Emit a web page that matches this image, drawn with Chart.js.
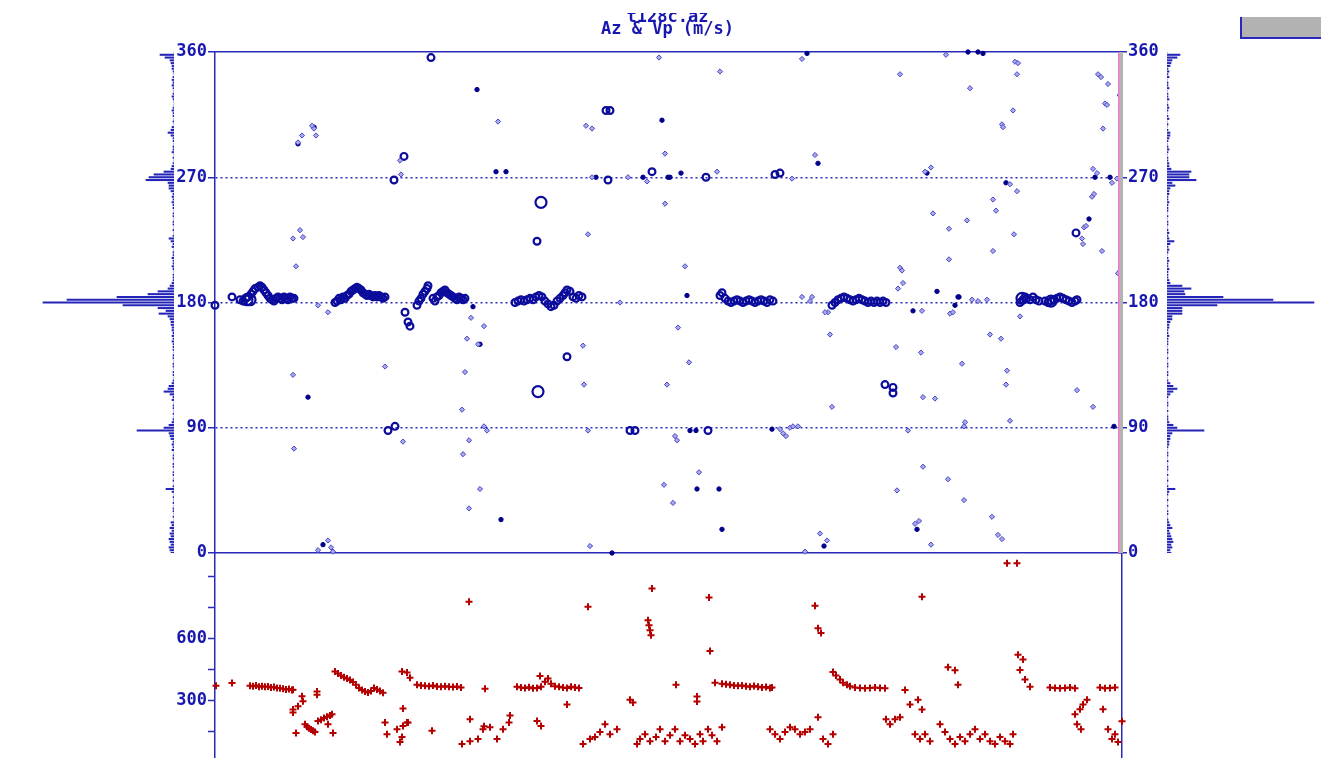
<!DOCTYPE html>
<html>
<head>
<meta charset="utf-8">
<script src="https://cdn.jsdelivr.net/npm/chart.js@4.4.0/dist/chart.umd.min.js"></script>
<style>
html, body { margin: 0; padding: 0; width: 1321px; height: 758px; overflow: hidden; background: #fff; }
canvas { position: absolute; }
#azChart { left: 0; top: 0; }
#vpChart { left: 0; top: 543px; }
#histLeft { left: 0; top: 47px; }
#histRight { left: 1167px; top: 47px; }
#titleClip { position: absolute; left: 560px; top: 0; width: 220px; height: 13px; background: #fff; }
#grayBox { position: absolute; left: 1240px; top: 17px; width: 81px; height: 20px; background: #b2b2b2; border-left: 2px solid #2828c0; border-bottom: 2px solid #2828c0; }
</style>
</head>
<body>
<canvas id="azChart" width="1321" height="758"></canvas>
<canvas id="vpChart" width="1321" height="235"></canvas>
<canvas id="histLeft" width="174" height="511"></canvas>
<canvas id="histRight" width="154" height="511"></canvas>
<div id="titleClip"></div>
<div id="grayBox"></div>
<script>
// Colours
const AXIS = '#2a2ab8';
const TEXT = '#1717b0';
const NAVY = '#0c0c9c';

// Azimuth panel: [trace position, azimuth deg]
const ringPoints = [
    // group near 180, first
    [25,182],[28,181],[31,183],[33,184],[36,186],[38,188],[40,190],[43,191],[45,192],[47,191],[49,189],[51,187],[53,185],
    [55,183],[57,182],[59,181],[61,183],[63,184],[65,183],[67,182],[69,184],[71,183],[73,182],[75,184],[77,183],[79,183],
    // second
    [120,180],[122,181],[124,183],[126,182],[128,184],[130,183],[132,185],[134,186],[136,188],[138,189],[140,190],[142,191],
    [144,190],[146,189],[148,187],[150,186],[152,185],[154,186],[156,185],[158,184],[160,185],[162,184],[164,185],[166,184],
    [168,183],[170,184],
    [202,178],[204,181],[206,183],[208,186],[210,188],[212,190],[213,192],
    [218,183],[220,181],[222,184],[224,185],[226,187],[228,188],[230,189],[232,187],[234,186],[236,185],[238,184],[240,183],
    [242,182],[244,184],[246,183],[248,182],[250,183],
    [300,180],[303,181],[306,182],[309,181],[312,182],[315,183],[318,182],[321,184],[324,185],[327,184],[330,181],[333,179],
    [336,177],[339,178],[342,181],[345,183],[348,185],[350,187],[352,189],[355,188],[358,184],[361,183],[364,185],[367,184],
    [505,185],[507,187],[510,183],[513,181],[516,180],[519,181],[522,182],[525,181],[528,180],[531,181],[534,182],[537,181],
    [540,180],[543,181],[546,182],[549,181],[552,180],[555,182],[558,181],
    [617,178],[620,180],[623,182],[626,183],[629,184],[632,183],[635,182],[638,181],[641,182],[644,183],[647,182],[650,181],
    [653,180],[656,181],[659,180],[662,181],[665,180],[668,181],[671,180],
    [805,180],[808,182],[810,184],[812,183],[815,182],[818,184],[821,182],[824,181],
    [830,181],[833,180],[836,181],[839,182],[842,183],[845,184],[848,183],[851,182],[854,181],[857,180],[860,181],[862,182],
    // scattered
    [17,184],[0,178],[179,268],[189,285],[216,356],[391,318],[395,318],[322,224],[393,268],[437,274],[491,270],[560,272],
    [565,273],[190,173],[193,166],[195,163],[173,88],[180,91],[352,141],[415,88],[420,88],[493,88],[670,121],[678,119],
    [678,115],[861,230]
];
const bigRingPoints = [[326,252],[323,116],[32,182],[35,182],[807,183],[836,181]];
const diamondPoints = [
    [283,310],[371,307],[377,305],[444,356],[450,287],[450,251],[87,300],[99,305],[101,300],[185,282],[186,272],[377,270],
    [413,270],[432,267],[78,226],[85,232],[88,227],[81,206],[373,229],[587,355],[505,346],[685,344],[731,358],[800,353],
    [803,352],[802,344],[755,334],[883,344],[886,342],[893,337],[890,323],[892,322],[798,318],[787,308],[788,306],[888,305],
    [600,286],[502,274],[577,269],[710,274],[716,277],[795,265],[802,260],[878,276],[882,273],[897,266],[902,269],[877,256],
    [879,258],[869,234],[871,235],[867,226],[868,222],[887,217],[903,201],[778,254],[781,246],[718,244],[752,239],[734,233],
    [799,229],[734,211],[778,217],[470,206],[685,205],[687,203],[688,194],[683,190],[103,178],[113,173],[256,169],[269,163],
    [252,154],[263,150],[368,149],[170,134],[78,128],[250,130],[369,121],[452,121],[247,103],[188,80],[269,91],[272,88],
    [254,81],[248,71],[373,88],[79,75],[265,46],[254,32],[449,49],[375,5],[103,2],[113,9],[118,1],[116,4],[463,162],
    [474,137],[615,157],[617,105],[681,148],[706,144],[747,136],[792,131],[791,121],[708,112],[720,111],[862,117],[878,105],
    [775,157],[786,154],[795,95],[750,94],[749,91],[460,84],[462,81],[565,89],[575,90],[578,91],[583,91],[568,86],[571,84],
    [693,88],[484,58],[458,36],[708,62],[733,53],[682,45],[749,38],[777,26],[700,21],[704,23],[605,14],[612,9],[590,1],
    [716,6],[783,13],[787,10],[587,184],[597,184],[595,181],[707,174],[735,172],[738,173],[757,182],[763,181],[772,182],
    [805,170],[613,173],[610,173],[405,180],[97,307],[83,295]
];
const dotPoints = [
    [262,333],[447,311],[281,274],[291,274],[381,270],[428,270],[453,270],[592,359],[753,360],[763,360],[768,359],[905,329],
    [603,280],[455,270],[466,273],[712,273],[791,266],[880,270],[895,270],[874,240],[472,185],[722,188],[743,184],[258,177],
    [265,150],[93,112],[108,6],[286,24],[397,0],[475,88],[481,88],[557,89],[899,91],[482,46],[504,46],[507,17],[702,17],
    [609,5],[698,174],[740,178],[744,184],[83,294],[99,306]
];

// Vp panel: [trace position, Vp m/s]
const vpPoints = [
    [1,370],[17,384],
    [35,370],[38,368],[41,372],[44,366],[47,368],[50,365],[53,367],[56,362],[59,364],[62,360],[65,358],[68,356],[71,352],
    [74,354],[77,350],
    [78,351],[87,319],[88,295],[83,271],[78,241],[78,255],[102,343],[102,327],[81,141],[118,141],
    [90,184],[92,172],[94,165],[96,158],[98,152],[100,147],
    [103,200],[106,206],[109,214],[112,220],[115,226],[117,232],[113,184],
    [120,439],[123,430],[126,420],[129,412],[132,405],[135,398],[138,388],[141,375],[144,360],[147,350],[150,342],[153,338],
    [156,345],[159,360],[162,352],[165,345],[168,337],
    [170,192],[172,136],[182,160],[188,176],[187,122],[185,98],[192,192],[193,192],[188,260],[187,439],[192,434],[195,409],
    [217,152],
    [202,375],[206,372],[210,370],[214,368],[218,371],[222,367],[226,365],[230,368],[234,366],[238,364],[242,367],[246,362],
    [254,777],[270,356],
    [247,88],[255,102],[263,112],[268,160],[275,170],[282,112],[288,160],[294,193],[255,208],[269,174],[295,226],
    [302,365],[306,362],[310,360],[314,363],[318,358],[322,360],[326,365],[330,390],[333,405],[336,380],[340,368],[344,365],
    [348,362],[352,360],[325,418],[322,200],[326,175],[352,280],[356,365],[360,362],[364,360],
    [373,753],
    [368,88],[375,112],[380,122],[385,146],[390,184],[395,136],[402,160],[415,303],[418,289],
    [425,112],[430,136],[422,88],[435,102],[441,122],[445,160],[450,102],[455,131],[460,160],[465,102],[470,131],[475,112],
    [480,88],[485,136],[488,102],[493,160],[497,131],[502,102],[507,170],
    [437,841],[433,687],[434,663],[435,639],[436,615],
    [461,375],[494,798],[495,538],[500,385],[482,294],[482,318],
    [507,380],[511,378],[515,375],[519,372],[523,370],[527,372],[531,368],[535,366],[539,369],[543,365],[547,362],[551,364],
    [555,360],[557,362],
    [555,160],[560,136],[565,112],[570,146],[575,170],[580,160],[585,136],[590,146],[595,160],[603,218],[608,112],[613,88],
    [618,136],
    [600,758],[603,648],[606,625],
    [618,437],[621,420],[625,400],[628,385],[632,375],[635,368],[640,362],[645,360],[650,358],[655,360],[660,362],[665,360],
    [670,358],
    [671,208],[675,184],[680,208],[685,218],[690,350],[695,280],[700,136],[705,112],[710,136],[715,102],[703,303],[707,255],
    [707,801],
    [725,184],[730,146],[735,112],[740,88],[745,122],[750,102],[755,136],[760,160],[765,112],[770,136],[775,102],[780,88],
    [785,122],[790,102],[795,88],[798,136],
    [733,460],[740,445],[743,375],[792,963],[802,963],
    [803,520],[808,497],[805,446],[810,400],[815,365],
    [835,362],[840,360],[845,358],[850,360],[855,362],[860,358],
    [860,232],[865,256],[868,280],[872,303],[862,184],[866,160],
    [885,362],[890,358],[895,360],[900,362],
    [888,256],[893,160],[897,112],[900,136],[903,98],[907,198]
];

// Azimuth histograms, 2 degree bins (0..360)
const histBins = Array.from({ length: 181 }, (_, i) => i * 2);
const histLeftCounts = [
    3, 4, 5, 3, 4, 5, 3, 4, 2, 4,
    2, 3, 0, 1, 0, 1, 1, 0, 1, 0,
    1, 0, 2, 8, 1, 0, 1, 0, 1, 1,
    0, 1, 1, 0, 1, 1, 0, 2, 1, 2,
    1, 3, 4, 5, 37, 10, 5, 2, 1, 0,
    1, 0, 1, 1, 0, 2, 1, 4, 10, 6,
    5, 2, 1, 0, 1, 1, 0, 1, 1, 0,
    1, 1, 0, 1, 1, 1, 2, 1, 2, 1,
    2, 2, 3, 3, 4, 6, 15, 8, 16, 51,
    131, 107, 57, 26, 16, 6, 4, 2, 1, 1,
    1, 0, 1, 2, 1, 1, 2, 1, 1, 0,
    2, 1, 3, 5, 1, 0, 1, 0, 1, 1,
    0, 1, 1, 0, 1, 1, 2, 1, 2, 1,
    3, 5, 5, 6, 28, 25, 20, 10, 3, 2,
    1, 0, 1, 0, 2, 1, 1, 0, 1, 1,
    3, 6, 3, 2, 0, 1, 0, 1, 1, 2,
    1, 0, 0, 1, 2, 1, 0, 1, 2, 1,
    2, 1, 0, 1, 2, 2, 3, 4, 9, 14,
    0
];
const histRightCounts = [
    4, 3, 5, 4, 6, 5, 4, 3, 2, 5,
    3, 2, 1, 0, 1, 1, 0, 1, 0, 1,
    0, 1, 2, 8, 1, 0, 1, 0, 1, 0,
    1, 1, 0, 1, 0, 1, 1, 0, 1, 2,
    2, 3, 3, 5, 37, 10, 6, 2, 1, 1,
    0, 1, 0, 1, 1, 0, 1, 3, 6, 10,
    6, 3, 1, 0, 1, 1, 0, 1, 1, 0,
    1, 0, 1, 1, 0, 1, 1, 1, 2, 1,
    1, 2, 2, 3, 5, 5, 15, 15, 15, 50,
    147, 106, 56, 18, 17, 24, 15, 3, 2, 1,
    1, 1, 2, 1, 1, 2, 1, 0, 1, 2,
    1, 3, 7, 2, 1, 2, 1, 0, 1, 1,
    0, 1, 0, 1, 1, 1, 2, 1, 1, 2,
    2, 3, 8, 5, 29, 22, 22, 24, 4, 2,
    2, 1, 1, 0, 1, 2, 1, 0, 1, 2,
    3, 3, 1, 0, 1, 0, 2, 1, 0, 1,
    2, 1, 0, 2, 1, 1, 0, 2, 1, 1,
    0, 2, 1, 2, 1, 3, 4, 5, 10, 13,
    0
];

const azTicks = [0, 90, 180, 270, 360];
const vpTicks = [0, 150, 300, 450, 600, 750, 900];
const vpLabelled = [300, 600];

const tickFont = { family: 'DejaVu Sans Mono', size: 17, weight: 'bold' };
const toXY = pts => pts.map(p => ({ x: p[0], y: p[1] }));

// Pink cursor line with grey band at the right edge of the azimuth panel
const cursorLine = {
    id: 'cursorLine',
    afterDatasetsDraw(chart) {
        const { ctx, chartArea: a } = chart;
        ctx.save();
        ctx.fillStyle = '#b4b4b4';
        ctx.fillRect(a.right - 1, a.top, 4, a.bottom - a.top);
        ctx.fillStyle = '#ff6ed2';
        ctx.fillRect(a.right - 2, a.top, 1.2, a.bottom - a.top);
        ctx.restore();
    }
};

const azAxis = (position) => ({
    type: 'linear',
    position: position,
    min: 0,
    max: 360,
    afterBuildTicks: s => { s.ticks = azTicks.map(v => ({ value: v })); },
    ticks: { color: TEXT, font: tickFont, padding: 1 },
    grid: {
        drawOnChartArea: position === 'left',
        color: c => (c.tick && c.tick.value % 360 === 0) ? 'rgba(0,0,0,0)' : AXIS,
        lineWidth: 1.5,
        tickColor: AXIS,
        tickLength: 7,
        tickWidth: 1.5,
        tickBorderDash: []
    },
    border: { color: AXIS, width: 1.5, dash: [2, 3] },
    afterFit: s => { s.width = 45; }
});

const frameAxis = (position) => ({
    type: 'linear',
    position: position,
    min: 0,
    max: 905,
    ticks: { display: false },
    grid: { display: false },
    border: { color: AXIS, width: 1.5 },
    afterFit: s => { s.height = 0; }
});

new Chart(document.getElementById('azChart'), {
    type: 'scatter',
    data: {
        datasets: [
            { data: toXY(diamondPoints), pointStyle: 'rectRot', radius: 2.6, borderWidth: 1, borderColor: '#4848c8', backgroundColor: '#a8a8ea', clip: 6 },
            { data: toXY(dotPoints), pointStyle: 'circle', radius: 2.2, borderWidth: 1, borderColor: '#00008a', backgroundColor: '#00008a', clip: 6 },
            { data: toXY(ringPoints), pointStyle: 'circle', radius: 3.4, borderWidth: 2.2, borderColor: NAVY, backgroundColor: 'rgba(0,0,0,0)', clip: 6 },
            { data: toXY(bigRingPoints), pointStyle: 'circle', radius: 5.5, borderWidth: 2.2, borderColor: NAVY, backgroundColor: 'rgba(0,0,0,0)', clip: 6 }
        ]
    },
    options: {
        responsive: false,
        animation: false,
        events: [],
        layout: { autoPadding: false, padding: { left: 170, right: 156, top: 0, bottom: 205 } },
        plugins: {
            legend: { display: false },
            tooltip: { enabled: false },
            title: {
                display: true,
                text: ['t128c.az', 'Az & Vp (m/s)'],
                color: TEXT,
                font: { family: 'DejaVu Sans Mono', size: 17, weight: 'bold', lineHeight: '12px' },
                padding: { top: 12, bottom: 16 }
            }
        },
        scales: {
            x: frameAxis('bottom'),
            xTop: frameAxis('top'),
            y: azAxis('left'),
            y2: azAxis('right')
        }
    },
    plugins: [cursorLine]
});

// Vp panel (canvas starts 10px above the panel so the frame lines up at 553)
new Chart(document.getElementById('vpChart'), {
    type: 'scatter',
    data: {
        datasets: [
            { data: toXY(vpPoints), pointStyle: 'cross', radius: 3.5, borderWidth: 2, borderColor: '#b40000', clip: 6 }
        ]
    },
    options: {
        responsive: false,
        animation: false,
        events: [],
        layout: { autoPadding: false, padding: { left: 170, right: 199, top: 10, bottom: 10 } },
        plugins: { legend: { display: false }, tooltip: { enabled: false } },
        scales: {
            x: { type: 'linear', min: 0, max: 907, display: false },
            y: {
                type: 'linear',
                position: 'left',
                min: -22,
                max: 1007,
                afterBuildTicks: s => { s.ticks = vpTicks.map(v => ({ value: v })); },
                ticks: {
                    color: TEXT,
                    font: tickFont,
                    padding: 1,
                    callback: v => vpLabelled.includes(v) ? String(v) : ''
                },
                grid: { drawOnChartArea: false, tickColor: AXIS, tickLength: 7, tickWidth: 1.5 },
                border: { color: AXIS, width: 1.5 },
                afterFit: s => { s.width = 45; }
            },
            yR: {
                type: 'linear',
                position: 'right',
                min: -22,
                max: 1007,
                ticks: { display: false },
                grid: { display: false },
                border: { color: AXIS, width: 1.5 },
                afterFit: s => { s.width = 0; }
            }
        }
    }
});

// Side histograms of azimuth
function histChart(id, counts, maxLen, reverse) {
    new Chart(document.getElementById(id), {
        type: 'bar',
        data: {
            datasets: [{
                data: histBins.map((b, i) => ({ x: counts[i], y: b })),
                backgroundColor: '#2424b8',
                barThickness: 1.4
            }]
        },
        options: {
            indexAxis: 'y',
            responsive: false,
            animation: false,
            events: [],
            layout: { autoPadding: false, padding: { top: 5, bottom: 5, left: 0, right: 0 } },
            plugins: { legend: { display: false }, tooltip: { enabled: false } },
            scales: {
                x: { type: 'linear', min: 0, max: maxLen, reverse: reverse, display: false },
                y: { type: 'linear', min: 0, max: 360, offset: false, grid: { offset: false }, display: false }
            }
        }
    });
}

histChart('histLeft', histLeftCounts, 174, true);
histChart('histRight', histRightCounts, 154, false);
</script>
</body>
</html>
